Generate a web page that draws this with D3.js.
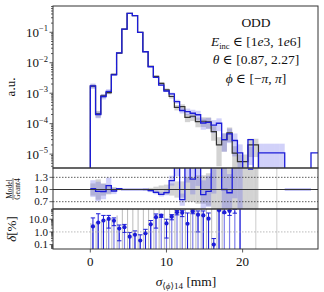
<!DOCTYPE html>
<html>
<head>
<meta charset="utf-8">
<script src="https://cdn.jsdelivr.net/npm/d3@7"></script>
<style>
  body { margin: 0; background: #fff; }
  text { font-family: "Liberation Serif", "DejaVu Serif", serif; fill: #111; font-weight: normal; }
</style>
</head>
<body>
<div id="chart"></div>
<script>
// bins of the histogram, starting at 0 mm
var binWidth = 0.69;
var model = [1.74e-3, 2.0e-4, 7.8e-4, 1.15e-3, 4.0e-3, 2.1e-2, 0.128, 0.42, 0.35, 0.10,
    0.023, 7.4e-3, 3.3e-3, 1.85e-3, 1.18e-3, 9.5e-4, 5.3e-4, 2.7e-4, 2.5e-4, 2.2e-4,
    1.96e-4, 1.05e-4, 1.1e-4, 9e-5, 1.03e-4, 3.0e-5, 4.6e-5, 2.8e-5, 1.1e-5, 0,
    3.0e-5, 0, 1.1e-5, 1.1e-5, 1.1e-5, 1.1e-5, 1.1e-5, 0, 0, 0,
    0, 0, 1.1e-5, 1.1e-5];
var geant4 = [1.70e-3, 2.1e-4, 8.2e-4, 1.05e-3, 4.15e-3, 2.06e-2, 0.128, 0.42, 0.35, 0.10,
    0.023, 7.6e-3, 3.55e-3, 2.1e-3, 1.28e-3, 7.8e-4, 3.4e-4, 3.6e-4, 1.6e-4, 1.75e-4,
    1.17e-4, 1.2e-4, 1.15e-4, 5.5e-5, 2.0e-5, 3.0e-5, 5.0e-5, 1.07e-5, 5.7e-6, 5.7e-6,
    2.0e-5, 2.0e-5, 0, 0, 0, 0, 0, 0, 0, 0,
    0, 0, 0, 0];
// relative uncertainties
var modelErr = [0.2, 0.25, 0.2, 0.18, 0.08, 0.02, 0.01, 0.005, 0.005, 0.01,
    0.02, 0.04, 0.05, 0.06, 0.07, 0.1, 0.15, 0.2, 0.25, 0.3,
    0.35, 0.4, 0.4, 0.45, 0.45, 0.6, 0.5, 0.7, 0.9, 0,
    0.6, 0, 1.0, 1.0, 1.0, 1.0, 1.0, 0, 0, 0,
    0, 0, 1.0, 1.0];
var geant4Err = [0.15, 0.25, 0.15, 0.12, 0.06, 0.02, 0.01, 0.005, 0.005, 0.01,
    0.02, 0.04, 0.07, 0.1, 0.12, 0.15, 0.2, 0.2, 0.3, 0.3,
    0.35, 0.35, 0.4, 0.5, 0.8, 0.6, 0.5, 0.7, 0.7, 0.7,
    0.6, 0.6, 0, 0, 0, 0, 0, 0, 0, 0,
    0, 0, 0, 0];
// delta [%] per bin (model points), with error bar ends
var deltaVal = [2.7, 5.4, 7.8, 10.5, 7.6, 1.85, 2.35, 0.42, 0.6, 0.21,
    0.78, 4.0, 14.5, 19, 4.7, 16, 35, 33, 4.4, 41,
    23, 20, 11, 0.1, 200, 50, 35, 45, 200];
var deltaHi = [12.7, 27, 20, 20, 12.7, 3.5, 3.9, 0.89, 1.2, 0.59,
    1.6, 7.9, 26, 24, 10, 23, 48, 50, 31, 55,
    45, 45, 31, 0.3, 300, 70, 50, 60, 300];
var deltaLo = [0.01, 0.01, 0.01, 2, 3.1, 0.2, 0.9, 0.01, 0.01, 0.01,
    0.01, 0.01, 2, 14, 0.33, 9, 22, 16, 0.01, 27,
    1, 0.01, 0.01, 0.01, 0.01, 30, 20, 30, 0.01];
// grey reference stems, drawn at the left edge of each bin
var refDelta = [0, 0, 0, 0, 0, 5, 6, 8, 10, 12,
    20, 100, 100, 100, 100, 100, 100, 100, 100, 100,
    100, 100, 100, 100, 100, 100, 100, 100, 100, 100,
    100, 0, 0, 0, 0, 0, 0, 0, 0, 0,
    0, 0, 0, 0];
var emptyBins = [31, 35];

var xTicks = [0, 10, 20];
var mainTicks = [1e-5, 1e-4, 1e-3, 1e-2, 1e-1];
var mainTickLabels = ["\u22125", "\u22124", "\u22123", "\u22122", "\u22121"];
var ratioTicks = [0.7, 1.0, 1.3];
var ratioTickLabels = ["0.7", "1.0", "1.3"];
var deltaTicks = [0.1, 1, 10];
var deltaTickLabels = ["0.1", "1.0", "10.0"];

var blue = "#1c1cd8";
var dark = "#333";

var svg = d3.select("#chart").append("svg")
    .attr("width", 324)
    .attr("height", 292);

var left = 53, right = 318;
var mainTop = 6, mainBot = 168, ratioBot = 209, deltaBot = 249;

var x = d3.scaleLinear().domain([-4.9, 29.9]).range([left, right]);
var yMain = d3.scaleLog().domain([3.5e-6, 0.73]).range([mainBot, mainTop]);
var yRatio = d3.scaleLinear().domain([0.52, 1.53]).range([ratioBot, mainBot]);
var yDelta = d3.scaleLog().domain([0.045, 64]).range([deltaBot, ratioBot]);

var edges = model.map(function (d, i) { return i * binWidth; });

function clipFor(id, y0, y1) {
    svg.append("clipPath").attr("id", id)
        .append("rect")
        .attr("x", left).attr("y", y0)
        .attr("width", right - left).attr("height", y1 - y0);
}
clipFor("clipMain", mainTop, mainBot);
clipFor("clipRatio", mainBot, ratioBot);
clipFor("clipDelta", ratioBot, deltaBot);

// ---------- main panel ----------
var gMain = svg.append("g").attr("clip-path", "url(#clipMain)");

function drawBand(g, vals, errs, yScale, bottom, fill) {
    g.append("g").selectAll("rect")
        .data(vals)
        .enter().append("rect")
        .filter(function (d, i) { return d > 0 && errs[i] > 0; })
        .attr("x", function (d, i) { return x(edges[i]); })
        .attr("width", x(binWidth) - x(0))
        .attr("y", function (d, i) { return yScale(d * (1 + errs[i])); })
        .attr("height", function (d, i) {
            var lo = d * (1 - errs[i]);
            var yl = lo > 0 ? Math.min(yScale(lo), bottom + 2) : bottom + 2;
            return Math.max(0, yl - yScale(d * (1 + errs[i])));
        })
        .style("fill", fill);
}

function stepPath(vals, yScale, bottom) {
    var p = d3.path();
    var yb = bottom + 4;
    p.moveTo(x(edges[0]), yb);
    vals.forEach(function (d, i) {
        var y = d > 0 ? yScale(d) : yb;
        p.lineTo(x(edges[i]), y);
        p.lineTo(x(edges[i] + binWidth), y);
    });
    p.lineTo(x(edges[vals.length - 1] + binWidth), yb);
    return p.toString();
}

drawBand(gMain, geant4, geant4Err, yMain, mainBot, "rgba(120,120,120,0.33)");
drawBand(gMain, model, modelErr, yMain, mainBot, "rgba(90,90,235,0.28)");

gMain.append("path")
    .attr("d", stepPath(geant4, yMain, mainBot))
    .style("fill", "none").style("stroke", dark).style("stroke-width", 1.2);
gMain.append("path")
    .attr("d", stepPath(model, yMain, mainBot))
    .style("fill", "none").style("stroke", blue).style("stroke-width", 1.3);

// ---------- ratio panel ----------
var gRatio = svg.append("g").attr("clip-path", "url(#clipRatio)");
var gDelta = svg.append("g").attr("clip-path", "url(#clipDelta)");

emptyBins.forEach(function (b) {
    svg.append("line")
        .attr("x1", x(edges[b] + binWidth / 2)).attr("x2", x(edges[b] + binWidth / 2))
        .attr("y1", mainBot).attr("y2", deltaBot)
        .style("stroke", "#ccc").style("stroke-width", 1);
});

var ratio = model.map(function (d, i) {
    if (geant4[i] > 0 && d > 0) return d / geant4[i];
    if (geant4[i] === 0 && d === 0) return 1;
    return null;
});

gRatio.append("g").selectAll("rect")
    .data(geant4)
    .enter().append("rect")
    .filter(function (d, i) { return d > 0; })
    .attr("x", function (d, i) { return x(edges[i]); })
    .attr("width", x(binWidth) - x(0))
    .attr("y", function (d, i) { return yRatio(1 + geant4Err[i]); })
    .attr("height", function (d, i) { return yRatio(1 - geant4Err[i]) - yRatio(1 + geant4Err[i]); })
    .style("fill", "rgba(120,120,120,0.33)");

gRatio.append("g").selectAll("rect")
    .data(ratio)
    .enter().append("rect")
    .filter(function (d, i) { return d !== null && model[i] > 0 && geant4[i] > 0; })
    .attr("x", function (d, i) { return x(edges[i]); })
    .attr("width", x(binWidth) - x(0))
    .attr("y", function (d, i) { return yRatio(d * (1 + modelErr[i])); })
    .attr("height", function (d, i) { return yRatio(d * (1 - modelErr[i])) - yRatio(d * (1 + modelErr[i])); })
    .style("fill", "rgba(90,90,235,0.28)");

[0.7, 1.3].forEach(function (v) {
    svg.append("line")
        .attr("x1", left).attr("x2", right)
        .attr("y1", yRatio(v)).attr("y2", yRatio(v))
        .style("stroke", dark).style("stroke-width", 0.8)
        .style("stroke-dasharray", "1.5,1.5");
});
svg.append("line")
    .attr("x1", left).attr("x2", right)
    .attr("y1", yRatio(1)).attr("y2", yRatio(1))
    .style("stroke", dark).style("stroke-width", 1);

var ratioPts = [];
ratio.forEach(function (d, i) {
    ratioPts.push([edges[i], d]);
    ratioPts.push([edges[i] + binWidth, d]);
});
gRatio.append("path")
    .datum(ratioPts)
    .attr("d", d3.line()
        .defined(function (d) { return d[1] !== null; })
        .x(function (d) { return x(d[0]); })
        .y(function (d) { return Math.max(mainBot - 3, Math.min(ratioBot + 3, yRatio(d[1]))); }))
    .style("fill", "none").style("stroke", blue).style("stroke-width", 1.3);

// ---------- delta panel ----------
svg.append("line")
    .attr("x1", left).attr("x2", right)
    .attr("y1", yDelta(1)).attr("y2", yDelta(1))
    .style("stroke", "#aaa").style("stroke-width", 0.8)
    .style("stroke-dasharray", "1.5,1.5");

gDelta.append("g").selectAll("line")
    .data(refDelta)
    .enter().append("line")
    .filter(function (d) { return d > 0; })
    .attr("x1", function (d, i) { return x(edges[i]) + 0.5; })
    .attr("x2", function (d, i) { return x(edges[i]) + 0.5; })
    .attr("y1", deltaBot)
    .attr("y2", function (d) { return Math.max(ratioBot - 2, yDelta(d)); })
    .style("stroke", "#bbb").style("stroke-width", 1);

function cx(i) { return x(edges[i] + binWidth / 2); }
function clampD(v) { return Math.max(ratioBot - 2, Math.min(deltaBot + 2, yDelta(v))); }

gDelta.append("g").selectAll("line")
    .data(deltaVal)
    .enter().append("line")
    .attr("x1", function (d, i) { return cx(i); })
    .attr("x2", function (d, i) { return cx(i); })
    .attr("y1", deltaBot)
    .attr("y2", function (d) { return clampD(d); })
    .style("stroke", "rgba(40,40,220,0.6)").style("stroke-width", 1.2);

var gErr = gDelta.append("g");
deltaVal.forEach(function (d, i) {
    var xc = cx(i);
    gErr.append("line")
        .attr("x1", xc).attr("x2", xc)
        .attr("y1", clampD(deltaLo[i])).attr("y2", clampD(deltaHi[i]))
        .style("stroke", blue).style("stroke-width", 1);
    [deltaLo[i], deltaHi[i]].forEach(function (v) {
        if (v > 0.045 && v < 64) {
            gErr.append("line")
                .attr("x1", xc - 2.2).attr("x2", xc + 2.2)
                .attr("y1", yDelta(v)).attr("y2", yDelta(v))
                .style("stroke", blue).style("stroke-width", 1);
        }
    });
});

gDelta.append("g").selectAll("circle")
    .data(deltaVal)
    .enter().append("circle")
    .filter(function (d) { return d < 64; })
    .attr("cx", function (d, i) { return cx(i); })
    .attr("cy", function (d) { return yDelta(d); })
    .attr("r", 2.1)
    .style("fill", blue);

// ---------- frames and axes ----------
[[mainTop, mainBot], [mainBot, ratioBot], [ratioBot, deltaBot]].forEach(function (p) {
    svg.append("rect")
        .attr("x", left).attr("y", p[0])
        .attr("width", right - left).attr("height", p[1] - p[0])
        .style("fill", "none").style("stroke", dark).style("stroke-width", 1);
});

function minorLog(domain) {
    var out = [];
    for (var e = -7; e <= 2; e++) {
        for (var m = 2; m <= 9; m++) {
            var v = m * Math.pow(10, e);
            if (v > domain[0] && v < domain[1]) out.push(v);
        }
    }
    return out;
}

function tickMarks(values, yScale, len) {
    svg.append("g").selectAll("line")
        .data(values)
        .enter().append("line")
        .attr("x1", left - len).attr("x2", left)
        .attr("y1", function (d) { return yScale(d); })
        .attr("y2", function (d) { return yScale(d); })
        .style("stroke", dark).style("stroke-width", 0.8);
}

tickMarks(mainTicks, yMain, 3.5);
tickMarks(minorLog(yMain.domain()), yMain, 2);
tickMarks(ratioTicks, yRatio, 3.5);
tickMarks(deltaTicks, yDelta, 3.5);
tickMarks(minorLog(yDelta.domain()), yDelta, 2);

var mainLab = svg.append("g").selectAll("text")
    .data(mainTicks)
    .enter().append("text")
    .attr("x", 48)
    .attr("y", function (d) { return yMain(d) + 4.5; })
    .attr("text-anchor", "end")
    .style("font-size", "13px");
mainLab.append("tspan").text("10");
mainLab.append("tspan")
    .attr("dy", -5.5)
    .style("font-size", "8.5px")
    .text(function (d, i) { return mainTickLabels[i]; });

svg.append("g").selectAll("text")
    .data(ratioTicks)
    .enter().append("text")
    .attr("x", 48)
    .attr("y", function (d) { return yRatio(d) + 3.8; })
    .attr("text-anchor", "end")
    .style("font-size", "11px")
    .text(function (d, i) { return ratioTickLabels[i]; });

svg.append("g").selectAll("text")
    .data(deltaTicks)
    .enter().append("text")
    .attr("x", 48)
    .attr("y", function (d) { return yDelta(d) + 3.8; })
    .attr("text-anchor", "end")
    .style("font-size", "11px")
    .text(function (d, i) { return deltaTickLabels[i]; });

svg.append("g").selectAll("line")
    .data(xTicks)
    .enter().append("line")
    .attr("x1", function (d) { return x(d); })
    .attr("x2", function (d) { return x(d); })
    .attr("y1", deltaBot).attr("y2", deltaBot + 3.5)
    .style("stroke", dark).style("stroke-width", 0.8);

svg.append("g").selectAll("text")
    .data(xTicks)
    .enter().append("text")
    .attr("x", function (d) { return x(d); })
    .attr("y", 266)
    .attr("text-anchor", "middle")
    .style("font-size", "13px")
    .text(function (d) { return d; });

// axis titles
svg.append("text")
    .attr("transform", "translate(15,87) rotate(-90)")
    .attr("text-anchor", "middle")
    .style("font-size", "13px")
    .text("a.u.");

var frac = svg.append("g").attr("transform", "translate(13,189) rotate(-90)");
frac.append("text").attr("y", -1.5).attr("text-anchor", "middle")
    .style("font-size", "7.5px").text("Model");
frac.append("line").attr("x1", -11).attr("x2", 11)
    .style("stroke", "#222").style("stroke-width", 0.6);
frac.append("text").attr("y", 6.5).attr("text-anchor", "middle")
    .style("font-size", "7.5px").text("Geant4");

var dl = svg.append("text")
    .attr("transform", "translate(16,229) rotate(-90)")
    .attr("text-anchor", "middle")
    .style("font-size", "13px");
dl.append("tspan").style("font-style", "italic").text("\u03b4");
dl.append("tspan").text("[%]");

var xl = svg.append("text")
    .attr("x", 186).attr("y", 286)
    .attr("text-anchor", "middle")
    .style("font-size", "13.5px");
xl.append("tspan").style("font-style", "italic").text("\u03c3");
xl.append("tspan").attr("dy", 3).style("font-size", "9px").text("\u27e8");
xl.append("tspan").style("font-size", "9px").style("font-style", "italic").text("\u03d5");
xl.append("tspan").style("font-size", "9px").text("\u27e914");
xl.append("tspan").attr("dy", -3).text(" [mm]");

// info text
var info = svg.append("g").attr("text-anchor", "middle").style("font-size", "13.5px");
info.append("text").attr("x", 256).attr("y", 27).text("ODD");
var t1 = info.append("text").attr("x", 256).attr("y", 46);
t1.append("tspan").style("font-style", "italic").text("E");
t1.append("tspan").attr("dy", 3).style("font-size", "8.5px").text("inc");
t1.append("tspan").attr("dy", -3).text(" \u2208 [1");
t1.append("tspan").style("font-style", "italic").text("e");
t1.append("tspan").text("3, 1");
t1.append("tspan").style("font-style", "italic").text("e");
t1.append("tspan").text("6]");
var t2 = info.append("text").attr("x", 256).attr("y", 64);
t2.append("tspan").style("font-style", "italic").text("\u03b8");
t2.append("tspan").text(" \u2208 [0.87, 2.27]");
var t3 = info.append("text").attr("x", 256).attr("y", 83);
t3.append("tspan").style("font-style", "italic").text("\u03d5");
t3.append("tspan").text(" \u2208 [\u2212");
t3.append("tspan").style("font-style", "italic").text("\u03c0");
t3.append("tspan").text(", ");
t3.append("tspan").style("font-style", "italic").text("\u03c0");
t3.append("tspan").text("]");
</script>
</body>
</html>
